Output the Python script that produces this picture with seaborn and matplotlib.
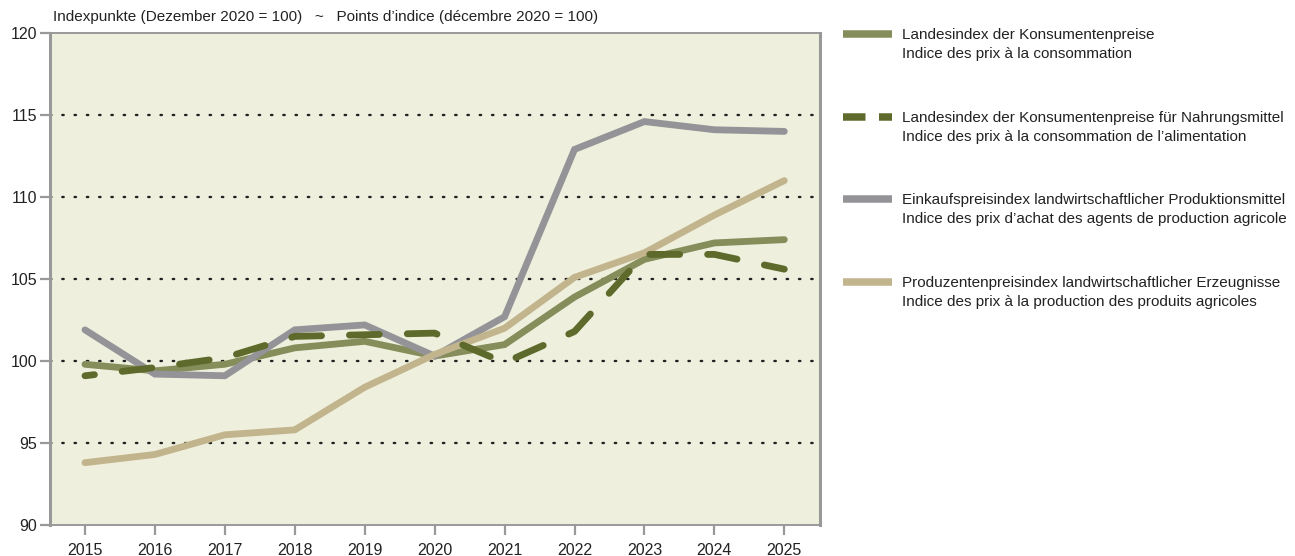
import numpy as np
import pandas as pd
import matplotlib
matplotlib.use("Agg")
import matplotlib.pyplot as plt
import seaborn as sns
from matplotlib.lines import Line2D

# Data
years = [2015, 2016, 2017, 2018, 2019, 2020, 2021, 2022, 2023, 2024, 2025]
cpi = [99.8, 99.4, 99.8, 100.8, 101.2, 100.3, 101.0, 103.9, 106.2, 107.2, 107.4]
cpi_food = [99.1, 99.6, 100.2, 101.5, 101.6, 101.7, 99.9, 101.8, 106.5, 106.5, 105.6]
input_prices = [101.9, 99.2, 99.1, 101.9, 102.2, 100.3, 102.7, 112.9, 114.6, 114.1, 114.0]
producer_prices = [93.8, 94.3, 95.5, 95.8, 98.4, 100.4, 102.0, 105.1, 106.6, 108.9, 111.0]

labels = [
    "Landesindex der Konsumentenpreise\nIndice des prix à la consommation",
    "Landesindex der Konsumentenpreise für Nahrungsmittel\nIndice des prix à la consommation de l’alimentation",
    "Einkaufspreisindex landwirtschaftlicher Produktionsmittel\nIndice des prix d’achat des agents de production agricole",
    "Produzentenpreisindex landwirtschaftlicher Erzeugnisse\nIndice des prix à la production des produits agricoles",
]
colors = ["#858d5b", "#5e6a2b", "#949498", "#c2b48d"]

sns.set_style("white")
plt.rcParams["font.family"] = ["Liberation Sans", "DejaVu Sans"]

fig = plt.figure(figsize=(12.95, 5.56), dpi=100)
ax = fig.add_axes([50 / 1295, 1 - 525 / 556, 770 / 1295, 492 / 556])
ax.set_facecolor("#eef0dd")

lw = 4.9
sns.lineplot(x=years, y=cpi, ax=ax, color=colors[0], lw=lw,
             solid_capstyle="round", solid_joinstyle="miter")
sns.lineplot(x=years, y=input_prices, ax=ax, color=colors[2], lw=lw,
             solid_capstyle="round", solid_joinstyle="miter")
sns.lineplot(x=years, y=producer_prices, ax=ax, color=colors[3], lw=lw,
             solid_capstyle="round", solid_joinstyle="miter")
sns.lineplot(x=years, y=cpi_food, ax=ax, color=colors[1], lw=lw,
             dashes=False, linestyle=(3.0, (4.4, 4.1)),
             dash_capstyle="round", dash_joinstyle="round")

# dotted grid
for g in [95, 100, 105, 110, 115]:
    ax.axhline(g, color="#222222", lw=1.7, linestyle=(0, (0.6, 4.6)),
               dash_capstyle="round", zorder=0.5)

ax.set_xlim(2014.5, 2025.51)
ax.set_ylim(90, 120)
ax.set_xticks(years)
ax.set_yticks(range(90, 121, 5))
ax.tick_params(axis="both", direction="out", length=7, width=1.6,
               bottom=True, left=True,
               color="#999999", labelsize=11.5, labelcolor="#222222")
ax.tick_params(axis="y", pad=2)
ax.tick_params(axis="x", pad=6)

for side in ["left", "right"]:
    ax.spines[side].set_color("#999999")
    ax.spines[side].set_linewidth(2.2)
for side in ["top", "bottom"]:
    ax.spines[side].set_color("#999999")
    ax.spines[side].set_linewidth(1.4)

fig.text(53 / 1295, 1 - 17 / 556,
         "Indexpunkte (Dezember 2020 = 100)   ~   Points d’indice (décembre 2020 = 100)",
         fontsize=11, color="#222222", va="center", ha="left")

# legend built by hand to match placement
legend_y = [34, 117, 199, 282]
for i, (lab, col) in enumerate(zip(labels, colors)):
    y = 1 - legend_y[i] / 556
    if i == 1:
        fig.add_artist(Line2D([843 / 1295, 892 / 1295], [y, y], color=col, lw=5.4,
                              linestyle=(0, (3.0, 1.8)), dash_capstyle="butt",
                              transform=fig.transFigure))
    else:
        fig.add_artist(Line2D([843 / 1295, 892 / 1295], [y, y], color=col, lw=5.4,
                              solid_capstyle="butt", transform=fig.transFigure))
    fig.text(902 / 1295, y + 6 / 556, lab, fontsize=11, color="#222222",
             va="top", ha="left", linespacing=1.42)

fig.savefig("out.png", dpi=100)
